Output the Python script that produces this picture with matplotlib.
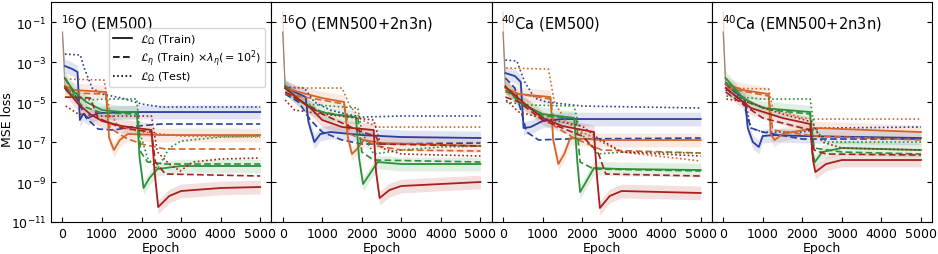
import numpy as np
import matplotlib
matplotlib.use("Agg")
import matplotlib.pyplot as plt
from matplotlib.lines import Line2D

# --- Werte: (Epoch, log10(MSE)) ---

# 16O (EM500)
o16_em_blue_train = [(0, -1.5), (60, -3.2), (250, -3.35), (380, -3.5), (440, -5.9), (520, -5.6), (650, -5.8), (900, -5.55), (2000, -5.5), (5000, -5.5)]
o16_em_blue_eta = [(0, -2.5), (60, -3.8), (300, -4.6), (600, -5.8), (900, -6.35), (1300, -6.4), (1900, -6.2), (2500, -6.1), (5000, -6.1)]
o16_em_blue_test = [(0, -2.0), (60, -2.6), (450, -2.65), (550, -3.3), (750, -4.3), (1000, -4.6), (1500, -4.8), (2000, -5.1), (2500, -5.25), (5000, -5.25)]
o16_em_orange_train = [(0, -1.8), (60, -4.2), (300, -4.4), (1100, -4.5), (1180, -6.8), (1300, -7.4), (1450, -6.9), (1650, -6.6), (2500, -6.65), (5000, -6.65)]
o16_em_orange_eta = [(0, -2.5), (60, -4.3), (300, -4.55), (1100, -4.6), (1200, -6.3), (1600, -6.8), (2000, -7.1), (2600, -7.35), (5000, -7.35)]
o16_em_orange_test = [(0, -2.5), (80, -3.85), (1050, -3.9), (1200, -5.5), (1400, -6.2), (2000, -6.5), (3000, -6.7), (5000, -6.75)]
o16_em_red_train = [(0, -1.5), (60, -4.3), (400, -5.1), (700, -5.6), (1000, -5.95), (1500, -6.2), (2250, -6.4), (2330, -8.5), (2420, -10.25), (2700, -9.7), (3000, -9.45), (4000, -9.3), (5000, -9.25)]
o16_em_red_eta = [(0, -2.5), (60, -4.75), (700, -4.8), (900, -5.8), (1500, -6.3), (2250, -6.5), (2350, -8.0), (2600, -8.6), (5000, -8.7)]
o16_em_red_test = [(0, -3.0), (80, -5.2), (400, -5.6), (900, -5.7), (2250, -5.7), (2400, -7.5), (2700, -8.1), (2975, -8.45), (3300, -8.0), (4000, -7.85), (5000, -7.8)]
o16_em_green_train = [(0, -1.5), (60, -3.8), (300, -4.5), (600, -5.0), (1000, -5.4), (1500, -5.5), (1880, -5.5), (1950, -7.8), (2050, -9.3), (2200, -8.8), (2400, -8.35), (3000, -8.2), (5000, -8.2)]
o16_em_green_eta = [(0, -2.5), (60, -4.2), (500, -5.2), (1000, -5.55), (1900, -5.6), (1980, -7.5), (2150, -8.0), (2600, -8.1), (5000, -8.1)]
o16_em_green_test = [(0, -3.0), (80, -4.4), (600, -4.9), (1100, -4.85), (1880, -4.85), (1950, -6.5), (2150, -7.8), (2400, -8.35), (2700, -7.3), (3000, -6.95), (4000, -6.75), (5000, -6.7)]

# 16O (EMN500+2n3n)
o16_emn_blue_train = [(0, -1.5), (60, -4.2), (300, -4.5), (580, -4.75), (650, -6.0), (800, -7.0), (950, -6.6), (1200, -6.5), (2000, -6.65), (3000, -6.75), (5000, -6.8)]
o16_emn_blue_eta = [(0, -2.5), (60, -4.6), (400, -5.0), (700, -5.9), (1000, -6.5), (1500, -6.9), (2000, -7.1), (5000, -7.05)]
o16_emn_blue_test = [(0, -2.5), (60, -4.25), (550, -4.3), (800, -5.0), (1200, -5.4), (1600, -5.6), (2000, -5.75), (3000, -5.7), (5000, -5.7)]
o16_emn_orange_train = [(0, -0.5), (60, -4.3), (500, -4.55), (1000, -4.8), (1550, -5.0), (1650, -6.8), (1750, -7.6), (1900, -7.3), (2050, -6.9), (2500, -7.05), (5000, -7.2)]
o16_emn_orange_eta = [(0, -2.5), (60, -4.6), (1000, -4.9), (1550, -5.1), (1700, -6.6), (2400, -7.2), (3000, -7.4), (5000, -7.45)]
o16_emn_orange_test = [(0, -2.5), (80, -4.3), (1500, -4.3), (1700, -5.2), (2000, -5.9), (2400, -6.25), (5000, -6.25)]
o16_emn_red_train = [(0, -1.5), (60, -4.3), (300, -4.7), (700, -5.3), (1000, -5.9), (1500, -6.25), (2300, -6.4), (2360, -8.5), (2450, -9.8), (2700, -9.4), (3000, -9.2), (5000, -9.0)]
o16_emn_red_eta = [(0, -2.5), (60, -4.5), (400, -4.9), (1000, -5.6), (2000, -6.5), (2350, -6.7), (2450, -7.1), (5000, -7.2)]
o16_emn_red_test = [(0, -3.0), (60, -4.9), (300, -5.4), (1000, -5.6), (2300, -5.9), (2500, -7.3), (3000, -7.6), (5000, -7.7)]
o16_emn_green_train = [(0, -1.5), (60, -4.2), (400, -4.9), (800, -5.4), (1200, -5.6), (1850, -5.75), (1930, -7.8), (2030, -9.1), (2200, -8.6), (2400, -8.0), (3000, -8.1), (5000, -8.1)]
o16_emn_green_eta = [(0, -2.5), (60, -4.3), (500, -5.0), (1000, -5.5), (1900, -5.8), (2000, -7.5), (2300, -7.9), (5000, -8.0)]
o16_emn_green_test = [(0, -3.0), (80, -4.6), (600, -5.1), (1200, -5.2), (1900, -5.3), (2000, -6.5), (2300, -7.6), (3000, -7.4), (4000, -7.25), (5000, -7.2)]

# 40Ca (EM500)
ca40_em_blue_train = [(0, -1.5), (60, -3.55), (300, -3.7), (450, -4.0), (520, -6.3), (700, -6.25), (1000, -5.95), (1500, -5.85), (5000, -5.85)]
ca40_em_blue_eta = [(0, -2.5), (60, -3.8), (300, -4.3), (600, -6.5), (900, -6.9), (1500, -6.85), (5000, -6.8)]
ca40_em_blue_test = [(0, -2.0), (60, -2.9), (350, -2.95), (550, -4.0), (800, -4.8), (1100, -5.0), (2000, -5.2), (5000, -5.3)]
ca40_em_orange_train = [(0, -0.5), (60, -4.3), (400, -4.6), (1200, -4.75), (1270, -6.9), (1400, -8.1), (1550, -7.6), (1700, -6.8), (2500, -6.9), (5000, -6.9)]
ca40_em_orange_eta = [(0, -2.5), (60, -4.5), (1200, -4.85), (1300, -6.2), (1800, -6.8), (2500, -7.4), (5000, -7.55)]
ca40_em_orange_test = [(0, -2.5), (80, -3.3), (1150, -3.35), (1300, -5.0), (1600, -6.0), (2000, -6.5), (3000, -7.5), (5000, -7.95)]
ca40_em_red_train = [(0, -1.5), (60, -4.25), (500, -5.0), (1000, -5.8), (1500, -6.2), (2300, -6.5), (2380, -8.8), (2450, -10.3), (2700, -9.7), (3000, -9.45), (5000, -9.55)]
ca40_em_red_eta = [(0, -2.5), (60, -4.75), (400, -5.0), (1000, -5.9), (2000, -6.7), (2400, -7.5), (2600, -8.6), (5000, -8.7)]
ca40_em_red_test = [(0, -3.0), (80, -4.9), (400, -5.5), (1000, -5.8), (2000, -6.2), (2400, -6.8), (3000, -7.5), (5000, -7.7)]
ca40_em_green_train = [(0, -1.5), (60, -4.2), (400, -5.0), (1000, -5.6), (1800, -5.8), (1880, -8.0), (1950, -9.5), (2100, -9.0), (2300, -8.3), (3000, -8.35), (5000, -8.4)]
ca40_em_green_eta = [(0, -2.5), (60, -4.4), (500, -5.1), (1000, -5.7), (1850, -5.8), (1950, -8.0), (2300, -8.35), (5000, -8.45)]
ca40_em_green_test = [(0, -3.0), (80, -5.0), (700, -5.15), (1800, -5.2), (1950, -6.5), (2400, -7.6), (3000, -7.5), (5000, -7.55)]

# 40Ca (EMN500+2n3n)
ca40_emn_blue_train = [(0, -1.5), (60, -4.1), (300, -4.5), (550, -4.85), (620, -6.3), (750, -7.0), (900, -7.25), (1000, -6.7), (1300, -6.65), (2000, -6.7), (5000, -6.8)]
ca40_emn_blue_eta = [(0, -2.5), (60, -4.3), (500, -5.0), (700, -6.3), (1000, -6.5), (2000, -6.85), (5000, -6.85)]
ca40_emn_blue_test = [(0, -2.0), (60, -4.4), (550, -4.9), (700, -6.3), (1000, -6.5), (2000, -6.5), (2500, -6.3), (5000, -6.25)]
ca40_emn_orange_train = [(0, -0.5), (60, -4.1), (500, -4.4), (1150, -4.6), (1200, -6.6), (1300, -6.9), (1500, -6.6), (2300, -6.3), (5000, -6.5)]
ca40_emn_orange_eta = [(0, -2.5), (60, -4.3), (1150, -4.7), (1250, -6.4), (2300, -6.7), (5000, -6.9)]
ca40_emn_orange_test = [(0, -2.5), (80, -4.3), (1150, -4.35), (1250, -5.3), (2000, -5.8), (2300, -5.85), (5000, -5.85)]
ca40_emn_red_train = [(0, -1.5), (60, -4.3), (700, -5.3), (1500, -5.8), (2200, -6.1), (2270, -7.9), (2330, -8.5), (2600, -8.1), (3000, -7.9), (5000, -7.9)]
ca40_emn_red_eta = [(0, -2.5), (60, -4.5), (1000, -5.8), (2200, -6.4), (2300, -7.4), (2600, -7.6), (5000, -7.65)]
ca40_emn_red_test = [(0, -3.0), (80, -4.85), (600, -5.0), (1500, -5.6), (2250, -6.0), (2500, -7.0), (3000, -7.3), (5000, -7.4)]
ca40_emn_green_train = [(0, -1.5), (60, -3.8), (500, -4.8), (1000, -5.3), (2200, -5.5), (2250, -7.5), (2320, -8.0), (2500, -7.5), (3000, -7.3), (5000, -7.4)]
ca40_emn_green_eta = [(0, -2.5), (60, -4.0), (600, -5.0), (1200, -5.4), (2200, -5.6), (2300, -7.3), (3000, -7.5), (5000, -7.6)]
ca40_emn_green_test = [(0, -3.0), (80, -4.7), (1000, -4.85), (2200, -4.85), (2300, -6.3), (2600, -7.0), (5000, -7.0)]

titles = [r"$^{16}$O (EM500)", r"$^{16}$O (EMN500+2n3n)",
          r"$^{40}$Ca (EM500)", r"$^{40}$Ca (EMN500+2n3n)"]

colors = {"blue": "#2a3f9e", "orange": "#d3652b", "green": "#2b9038", "red": "#a8201c"}

panels = [
    {"blue": (o16_em_blue_train, o16_em_blue_eta, o16_em_blue_test),
     "orange": (o16_em_orange_train, o16_em_orange_eta, o16_em_orange_test),
     "green": (o16_em_green_train, o16_em_green_eta, o16_em_green_test),
     "red": (o16_em_red_train, o16_em_red_eta, o16_em_red_test)},
    {"blue": (o16_emn_blue_train, o16_emn_blue_eta, o16_emn_blue_test),
     "orange": (o16_emn_orange_train, o16_emn_orange_eta, o16_emn_orange_test),
     "green": (o16_emn_green_train, o16_emn_green_eta, o16_emn_green_test),
     "red": (o16_emn_red_train, o16_emn_red_eta, o16_emn_red_test)},
    {"blue": (ca40_em_blue_train, ca40_em_blue_eta, ca40_em_blue_test),
     "orange": (ca40_em_orange_train, ca40_em_orange_eta, ca40_em_orange_test),
     "green": (ca40_em_green_train, ca40_em_green_eta, ca40_em_green_test),
     "red": (ca40_em_red_train, ca40_em_red_eta, ca40_em_red_test)},
    {"blue": (ca40_emn_blue_train, ca40_emn_blue_eta, ca40_emn_blue_test),
     "orange": (ca40_emn_orange_train, ca40_emn_orange_eta, ca40_emn_orange_test),
     "green": (ca40_emn_green_train, ca40_emn_green_eta, ca40_emn_green_test),
     "red": (ca40_emn_red_train, ca40_emn_red_eta, ca40_emn_red_test)},
]


def xy(knots):
    e = np.array([k[0] for k in knots], dtype=float)
    v = 10.0 ** np.array([k[1] for k in knots])
    return e, v


fig, axes = plt.subplots(1, 4, figsize=(9.38, 2.55), dpi=100, sharey=True)
fig.subplots_adjust(left=0.0544, right=0.9936, top=0.988, bottom=0.1255, wspace=0)

for ax, title, panel in zip(axes, titles, panels):
    for name in ["blue", "orange", "green", "red"]:
        c = colors[name]
        train, eta, test = panel[name]
        # verrauschter Hintergrund als schwaches Band + Startspitze
        e, v = xy(train)
        ax.fill_between(e[1:], v[1:] / 2.2, v[1:] * 2.2, color=c, alpha=0.14, lw=0)
        ax.plot(e[:2], v[:2], color=c, lw=0.8, alpha=0.3)
        ax.plot(e[1:], v[1:], color=c, lw=1.3, ls="-")
        e, v = xy(eta)
        ax.plot(e[1:], v[1:], color=c, lw=1.2, ls=(0, (4, 2)))
        e, v = xy(test)
        ax.plot(e[1:], v[1:], color=c, lw=1.2, ls=(0, (1, 1.5)))

    ax.set_yscale("log")
    ax.set_ylim(1e-11, 1)
    ax.set_xlim(-290, 5280)
    ax.set_yticks([1e-1, 1e-3, 1e-5, 1e-7, 1e-9, 1e-11])
    ax.yaxis.set_minor_locator(matplotlib.ticker.NullLocator())
    ax.set_xticks([0, 1000, 2000, 3000, 4000, 5000])
    ax.tick_params(direction="in", right=True, labelsize=9, length=3.5)
    ax.set_xlabel("Epoch", fontsize=9, labelpad=1)
    ax.text(0.045, 0.955, title, transform=ax.transAxes, fontsize=10.5, va="top", ha="left")

fig.text(0.001, 0.53, "MSE loss", rotation=90, va="center", ha="left", fontsize=9)

handles = [Line2D([], [], color="k", lw=1.2, ls="-"),
           Line2D([], [], color="k", lw=1.2, ls=(0, (4, 2))),
           Line2D([], [], color="k", lw=1.2, ls=(0, (1, 1.5)))]
labels = [r"$\mathcal{L}_\Omega$ (Train)",
          r"$\mathcal{L}_\eta$ (Train) $\times\lambda_\eta(=10^2)$",
          r"$\mathcal{L}_\Omega$ (Test)"]
axes[0].legend(handles, labels, loc="upper right", bbox_to_anchor=(0.972, 0.88),
               borderaxespad=0, fontsize=8, handlelength=1.7, labelspacing=0.12,
               handletextpad=0.7, borderpad=0.35, fancybox=True)

plt.savefig("out.png", dpi=100)
